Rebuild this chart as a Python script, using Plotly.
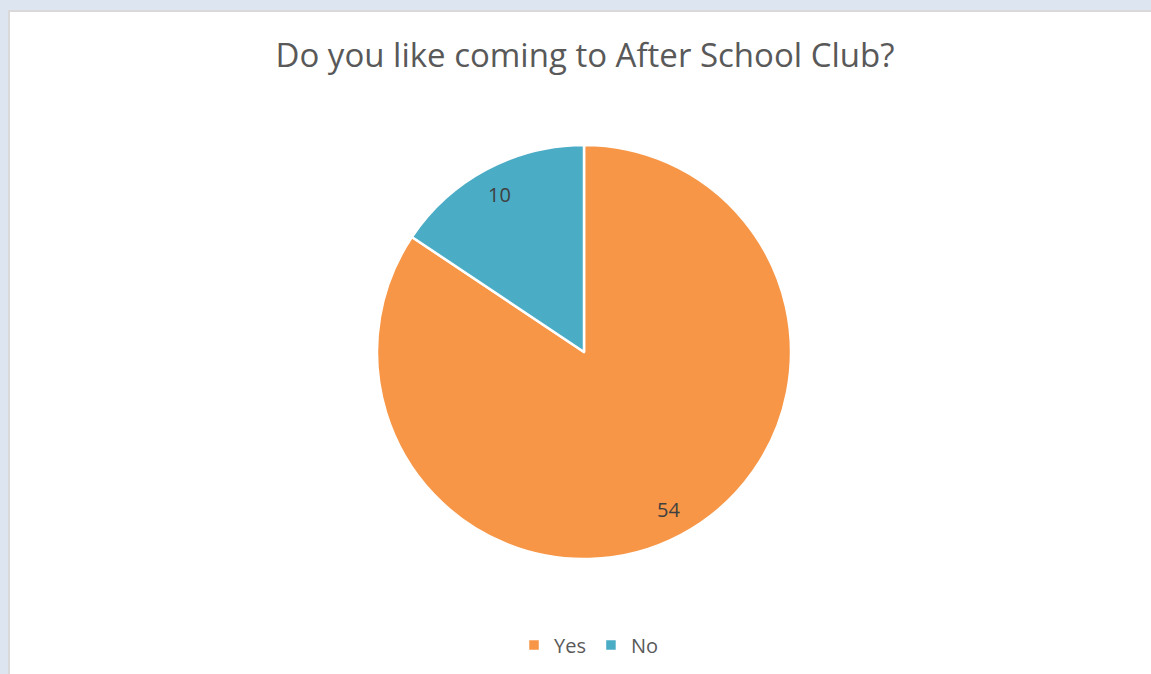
import math
import plotly.graph_objects as go

labels = ["Yes", "No"]
values = [54, 10]
colors = ["#F79646", "#4BACC6"]
title_text = "Do you like coming to After School Club?"

W, H = 1151, 674
FONT = "Open Sans, Lato, sans-serif"
dom_x = [377 / W, 791 / W]
dom_y = [1 - 559 / H, 1 - 145 / H]

fig = go.Figure(go.Pie(
    labels=labels, values=values, sort=False, direction="clockwise", rotation=0,
    marker=dict(colors=colors, line=dict(color="white", width=2.5)),
    textinfo="none", hoverinfo="label+value",
    domain=dict(x=dom_x, y=dom_y),
))

# data labels placed along each slice's mid angle
cx = (dom_x[0] + dom_x[1]) / 2 * W
cy = (1 - (dom_y[0] + dom_y[1]) / 2) * H
R = (dom_x[1] - dom_x[0]) * W / 2
total = sum(values)
cum = 0
annotations = []
for v in values:
    mid = (cum + v / 2) / total * 2 * math.pi
    cum += v
    px = cx + 0.865 * R * math.sin(mid)
    py = cy - 0.865 * R * math.cos(mid)
    annotations.append(dict(
        x=px / W, y=1 - py / H, xref="paper", yref="paper", text=str(v),
        xanchor="center", yanchor="middle",
        showarrow=False, font=dict(family=FONT, size=20, color="#404040"),
    ))

fig.update_layout(
    width=W, height=H,
    margin=dict(l=0, r=0, t=0, b=0),
    paper_bgcolor="#DCE5F0",
    plot_bgcolor="white",
    title=dict(text=title_text, x=585 / W, xanchor="center", y=1 - 55 / H, yanchor="middle",
               font=dict(family=FONT, size=33, color="#595959")),
    showlegend=True,
    legend=dict(orientation="h", x=589 / W, xanchor="center", y=1 - 645 / H, yanchor="middle",
                font=dict(family=FONT, size=20, color="#595959"),
                itemwidth=30, bgcolor="rgba(0,0,0,0)"),
    annotations=annotations,
    shapes=[dict(type="rect", xref="paper", yref="paper", layer="below",
                 x0=9 / W, x1=1.01, y0=-0.01, y1=1 - 11 / H,
                 fillcolor="white", line=dict(color="#D9D9D9", width=2))],
)

fig.write_html("out.html", config={"displayModeBar": False},
               post_script="document.body.style.margin='0';document.body.style.overflow='hidden';")
